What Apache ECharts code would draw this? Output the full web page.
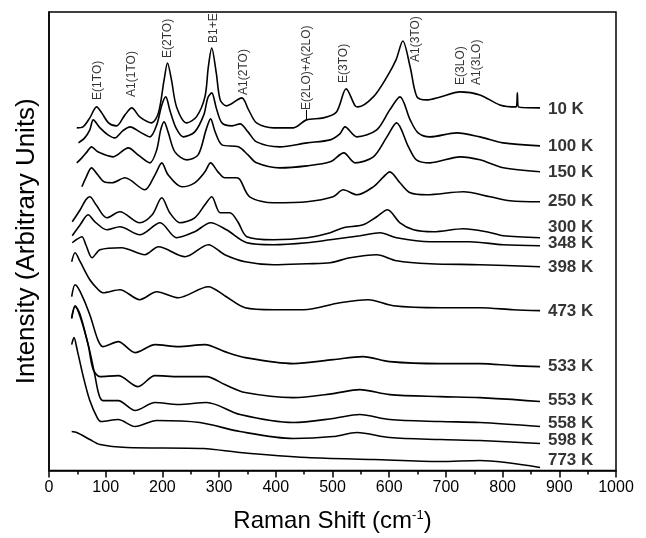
<!DOCTYPE html>
<html>
<head>
<meta charset="utf-8">
<script src="https://cdn.jsdelivr.net/npm/echarts@6/dist/echarts.min.js"></script>
<style>
  html, body { margin: 0; padding: 0; background: #fff; }
  #chart { width: 646px; height: 538px; }
</style>
</head>
<body>
<div id="chart"></div>
<script>
// Raman spectra, [shift cm-1, intensity (arb.)]
const k10 = [[49,343],[60,344],[72,353],[84,364],[93,358],[105,348],[119,345],[134,356],[146,363],[160,354],[181,348],[193,358],[203,391],[209,408],[216,391],[225,364],[243,348],[260,354],[275,374],[281,404],[287,423],[295,398],[302,371],[313,365],[340,373],[352,361],[366,348],[396,343],[431,343],[454,351],[484,353],[507,359],[524,382],[540,365],[545,364],[572,374],[596,394],[612,411],[624,430],[637,404],[649,374],[666,371],[690,374],[725,379],[760,376],[795,366],[824,364],[826,378],[828,364],[866,363]];
const k100 = [[52,328],[63,333],[72,341],[78,351],[90,343],[104,336],[116,333],[130,340],[143,344],[160,339],[178,334],[190,346],[199,366],[206,374],[213,361],[224,343],[237,334],[257,339],[273,356],[280,373],[287,378],[295,363],[305,348],[323,345],[337,347],[351,339],[366,329],[407,324],[455,328],[496,331],[513,337],[522,344],[543,334],[578,341],[601,361],[619,374],[637,351],[651,338],[672,334],[719,338],[760,334],[801,328],[866,325]];
const k150 = [[49,308],[58,313],[67,319],[75,324],[86,319],[113,314],[140,323],[157,316],[178,308],[190,321],[197,341],[203,349],[210,339],[222,319],[243,311],[263,316],[277,341],[285,352],[293,339],[305,326],[334,324],[351,316],[366,308],[407,303],[455,305],[496,309],[520,318],[540,308],[572,314],[596,334],[613,348],[634,324],[648,311],[672,308],[725,314],[760,311],[801,303],[866,299]];
const k250 = [[58,284],[65,293],[75,303],[86,296],[97,289],[111,288],[134,293],[169,281],[187,296],[199,308],[210,296],[234,284],[257,288],[275,299],[285,308],[298,299],[310,293],[331,293],[337,291],[354,274],[396,268],[455,269],[501,274],[519,281],[543,276],[572,284],[590,294],[601,299],[619,288],[637,278],[666,276],[731,279],[778,274],[813,270],[866,269]];
const k300 = [[41,249],[55,261],[65,271],[72,274],[83,266],[102,253],[125,259],[160,248],[182,256],[199,273],[213,258],[231,248],[257,253],[275,266],[287,274],[302,258],[319,258],[333,249],[349,234],[396,231],[455,233],[496,238],[519,243],[554,246],[578,254],[597,261],[619,248],[643,241],[678,239],[731,242],[772,239],[801,235],[866,233]];
const k348 = [[41,235],[55,246],[69,256],[81,249],[102,241],[125,244],[160,236],[196,248],[225,233],[257,239],[285,248],[313,241],[349,228],[396,226],[455,228],[496,231],[549,235],[584,238],[613,233],[672,229],[742,229],[801,226],[866,225]];
const k398 = [[41,228],[48,231],[58,234],[65,226],[76,213],[90,221],[128,223],[169,216],[193,224],[240,214],[281,226],[310,216],[346,209],[396,206],[455,207],[496,208],[531,213],[578,216],[613,210],[672,207],[760,206],[866,204]];
const k473 = [[40,209],[46,218],[55,209],[72,191],[87,181],[95,178],[125,181],[160,171],[190,179],[228,173],[281,184],[310,175],[346,163],[396,161],[449,161],[513,168],[563,171],[607,165],[690,163],[760,163],[819,161],[866,160]];
const k533 = [[40,174],[46,186],[55,179],[72,156],[86,131],[95,124],[122,129],[152,118],[187,126],[228,124],[275,126],[310,119],[346,113],[431,107],[501,111],[554,114],[601,109],[690,107],[760,107],[819,105],[866,104]];
const k553 = [[40,153],[46,165],[55,156],[69,126],[78,101],[90,94],[122,95],[157,84],[187,95],[228,94],[278,94],[310,86],[346,78],[431,73],[501,77],[548,81],[601,76],[690,74],[760,73],[866,69]];
const k558 = [[40,152],[46,164],[55,154],[70,124],[80,98],[88,76],[95,70],[122,70],[152,60],[187,68],[228,66],[278,68],[337,56],[431,48],[501,52],[548,56],[601,51],[690,49],[760,48],[866,44]];
const k598 = [[40,126],[44,133],[50,120],[60,95],[72,70],[85,53],[92,49],[122,51],[152,44],[190,50],[266,48],[337,39],[431,32],[501,34],[543,38],[601,33],[690,31],[760,30],[866,27]];
const k773 = [[40,39],[49,38],[72,31],[90,26],[137,23],[272,22],[337,18],[455,13],[572,11],[690,9],[760,10],[866,3]];

const spectra = [k10, k100, k150, k250, k300, k348, k398, k473, k533, k553, k558, k598, k773];
const temps = ['10 K', '100 K', '150 K', '250 K', '300 K', '348 K', '398 K', '473 K', '533 K', '553 K', '558 K', '598 K', '773 K'];
// height of each temperature label on the intensity scale
const tempLabelY = [362, 325, 299, 269, 243, 227, 203, 159, 104, 70, 47, 30, 10];

// mode assignments: name, shift, intensity where the label starts
const modes = ['E(1TO)', 'A1(1TO)', 'E(2TO)', 'B1+E', 'A1(2TO)', 'E(2LO)+A(2LO)', 'E(3TO)', 'A1(3TO)', 'E(3LO)', 'A1(3LO)'];
const modeX = [85, 146, 209, 290, 344, 454, 519, 647, 726, 754];
const modeY = [371, 374, 413, 428, 376, 361, 388, 409, 386, 386];

const chart = echarts.init(document.getElementById('chart'));

const series = spectra.map((d, i) => ({
    name: temps[i],
    type: 'line',
    data: d,
    symbol: 'none',
    smooth: 0.3,
    lineStyle: { color: '#000', width: 1.6 },
    silent: true
}));

// little pointer from the E(2LO)+A(2LO) label down to the 10 K trace
series[0].markLine = {
    silent: true,
    symbol: 'none',
    label: { show: false },
    lineStyle: { color: '#000', width: 1, type: 'solid' },
    data: [[{ coord: [modeX[5], 351] }, { coord: [modeX[5], modeY[5]] }]]
};

// temperature labels at the right end of each trace
series.push({
    type: 'scatter',
    symbolSize: 0,
    data: temps.map((t, i) => ({ value: [880, tempLabelY[i]], name: t })),
    label: {
        show: true,
        formatter: p => p.name,
        position: 'inside',
        align: 'left',
        verticalAlign: 'middle',
        color: '#000',
        fontFamily: 'Liberation Sans',
        fontWeight: 'bold',
        fontSize: 17
    }
});

// peak assignments, rotated
series.push({
    type: 'scatter',
    symbolSize: 0,
    data: modes.map((m, i) => ({ value: [modeX[i], modeY[i]], name: m })),
    label: {
        show: true,
        formatter: p => p.name,
        position: 'inside',
        rotate: 90,
        align: 'left',
        verticalAlign: 'middle',
        color: '#000',
        fontFamily: 'Liberation Sans',
        fontSize: 12
    }
});

const option = {
    animation: false,
    grid: {
        left: 49, right: 30, top: 12, bottom: 67,
        show: true,
        borderColor: '#000',
        borderWidth: 1.5
    },
    xAxis: {
        type: 'value',
        min: 0, max: 1000, interval: 100,
        name: 'Raman Shift (cm{sup|-1})',
        nameLocation: 'middle',
        nameGap: 38,
        nameTextStyle: {
            fontFamily: 'Liberation Sans', fontSize: 24, color: '#000',
            rich: { sup: { fontFamily: 'Liberation Sans', fontSize: 13, color: '#000', padding: [0, 0, 12, 0] } }
        },
        axisLine: { lineStyle: { color: '#000', width: 1.5 } },
        axisTick: { length: 7, lineStyle: { color: '#000', width: 1.5 } },
        minorTick: { show: true, splitNumber: 2, length: 4, lineStyle: { color: '#000', width: 1.5 } },
        axisLabel: { color: '#000', fontFamily: 'Liberation Sans', fontSize: 16, margin: 9, formatter: v => String(v) },
        splitLine: { show: false }
    },
    yAxis: {
        type: 'value',
        min: 0, max: 459,
        name: 'Intensity (Arbitrary Units)',
        nameLocation: 'middle',
        nameGap: 9,
        nameTextStyle: { fontFamily: 'Liberation Sans', fontSize: 26, color: '#000' },
        axisLine: { show: true, lineStyle: { color: '#000', width: 1.5 } },
        axisTick: { show: false },
        axisLabel: { show: false },
        splitLine: { show: false }
    },
    series: series
};

chart.setOption(option);
</script>
</body>
</html>
